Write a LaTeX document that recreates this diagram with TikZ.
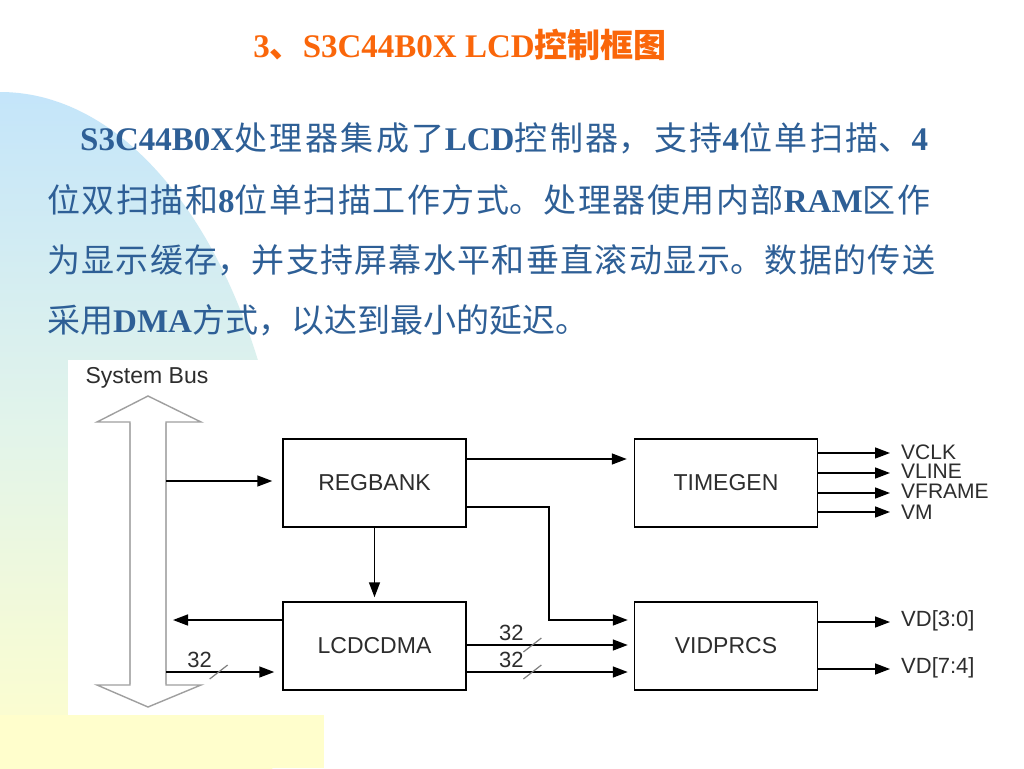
\documentclass[tikz,border=0pt]{standalone}
\usepackage{fontspec}
\setmainfont{Liberation Sans}
\newfontfamily\cjk{Noto Sans CJK SC}
\newfontfamily\latb{Liberation Serif}
\newcommand\Lb[1]{{\latb\bfseries #1}}
\newcommand\jline[2]{\parbox{#1}{\parfillskip=0pt\tolerance=10000\emergencystretch=20pt\XeTeXlinebreaklocale "zh"\XeTeXlinebreakskip=0pt plus 6pt\noindent #2}}
\usetikzlibrary{arrows.meta}
\definecolor{txtblue}{RGB}{46,95,150}
\definecolor{ttlorange}{RGB}{250,102,10}
\definecolor{bgblue}{RGB}{196,229,250}
\definecolor{bgmid}{RGB}{226,244,234}
\definecolor{bgyellow}{RGB}{255,254,204}
\definecolor{dgray}{RGB}{45,45,45}
\tikzset{
  blk/.style={draw=black, line width=1.5pt, minimum width=183pt, minimum height=88pt, inner sep=0pt, font=\fontsize{23}{23}\selectfont, text=dgray},
  arr/.style={line width=1.5pt, -{Triangle[length=15pt,width=11pt]}},
  slash/.style={line width=1.2pt, gray},
  lbl/.style={font=\fontsize{22}{22}\selectfont, text=dgray, inner sep=0pt},
  olbl/.style={font=\fontsize{21}{21}\selectfont, text=dgray, inner sep=0pt, anchor=west},
  para/.style={font=\cjk\fontsize{33}{40}\selectfont, text=txtblue, inner sep=0pt},
  ttl/.style={font=\cjk\bfseries\fontsize{33}{40}\selectfont, text=ttlorange, inner sep=0pt},
  busout/.style={draw=gray!75, line width=1.4pt, line join=miter},
  busshaft/.style={draw=gray!60, line width=2.6pt}
}
\begin{document}
\begin{tikzpicture}[x=1pt,y=-1pt]
\useasboundingbox (0,0) rectangle (1024,768);
\fill[white] (0,0) rectangle (1024,768);
% background decoration
\begin{scope}
  \clip (0,592) ellipse [x radius=291, y radius=500];
  \shade[top color=bgblue, bottom color=bgyellow, middle color=bgmid] (0,92) rectangle (330,768);
\end{scope}
\fill[bgyellow] (0,715) rectangle (324,768);
\fill[white] (68,360) rectangle (1000,715);

% title
\node[ttl] (title) at (460,45) {\Lb{3}、\Lb{S3C44B0X LCD}控制框图};

% paragraph
\node[para, anchor=west] (p1) at (80,138) {\jline{848pt}{\Lb{S3C44B0X}处理器集成了\Lb{LCD}控制器，支持\Lb{4}位单扫描、\Lb{4}}};
\node[para, anchor=west] (p2) at (47,200) {\jline{883pt}{位双扫描和\Lb{8}位单扫描工作方式。处理器使用内部\Lb{RAM}区作}};
\node[para, anchor=west] (p3) at (47,260) {\jline{888pt}{为显示缓存，并支持屏幕水平和垂直滚动显示。数据的传送}};
\node[para, anchor=west] (p4) at (47,320) {采用\Lb{DMA}方式，以达到最小的延迟。};

% system bus
\node[lbl, font=\fontsize{23}{23}\selectfont] (sysbus) at (147,378) {System Bus};
\draw[busout] (148,396) -- (201,422) -- (166,422) -- (166,685) -- (201,685) -- (148,707) -- (97,685) -- (130,685) -- (130,422) -- (97,422) -- cycle;
\draw[busshaft] (130,423) -- (130,684) (166,423) -- (166,684);
\coordinate (busA) at (166,481);
\coordinate (busB) at (173,620);
\coordinate (busC) at (166,672);

% blocks
\node[blk] (reg) at (374.5,483) {REGBANK};
\node[blk] (lcd) at (374.5,646) {LCDCDMA};
\node[blk] (tim) at (726,483) {TIMEGEN};
\node[blk] (vid) at (726,646) {VIDPRCS};

% connectors
\draw[arr, shorten >=10pt] (busA) -- (reg.west |- busA);
\draw[arr, shorten >=7pt] ([yshift=24pt]reg.east) -- ([yshift=24pt]tim.west);
\coordinate (bend) at (549,560);
\draw[arr, shorten >=6pt] ([yshift=-24pt]reg.east) -| (bend) |- ([yshift=26pt]vid.west);
\draw[arr, shorten >=4pt] (reg.south) -- (lcd.north);
\draw[arr] ([yshift=26pt]lcd.west) -- (busB);
\draw[arr, shorten >=8pt] (busC) -- coordinate[pos=0.453] (s1) (lcd.west |- busC);
\draw[arr, shorten >=6pt] ([yshift=1pt]lcd.east) -- coordinate[pos=0.393] (s2) ([yshift=1pt]vid.west);
\draw[arr, shorten >=6pt] ([yshift=-26pt]lcd.east) -- coordinate[pos=0.393] (s3) ([yshift=-26pt]vid.west);

\foreach \s in {s1,s2,s3}
  \draw[slash] ([shift={(-9,7)}]\s) -- ([shift={(9,-7)}]\s);
\node[lbl] (w1) at ([shift={(-19,-12)}]s1) {32};
\node[lbl] (w2) at ([shift={(-21,-12)}]s2) {32};
\node[lbl] (w3) at ([shift={(-21,-12)}]s3) {32};

% outputs
\node[olbl] (vclk) at (901,452) {VCLK};
\node[olbl] (vline) at (901,471) {VLINE};
\node[olbl] (vframe) at (901,491) {VFRAME};
\node[olbl] (vm) at (901,512) {VM};
\node[olbl, font=\fontsize{22}{22}\selectfont] (vd30) at (901,621) {VD[3:0]};
\node[olbl, font=\fontsize{22}{22}\selectfont] (vd74) at (901,668) {VD[7:4]};

\foreach \dy/\nm in {30/vclk, 10/vline, -10/vframe, -29/vm} {
  \coordinate (t-\nm) at ([yshift=\dy pt]tim.east);
  \draw[arr, shorten >=11pt] (t-\nm) -- (t-\nm -| \nm.west);
}
\foreach \dy/\nm in {24/vd30, -23/vd74} {
  \coordinate (t-\nm) at ([yshift=\dy pt]vid.east);
  \draw[arr, shorten >=11pt] (t-\nm) -- (t-\nm -| \nm.west);
}
\end{tikzpicture}
\end{document}
